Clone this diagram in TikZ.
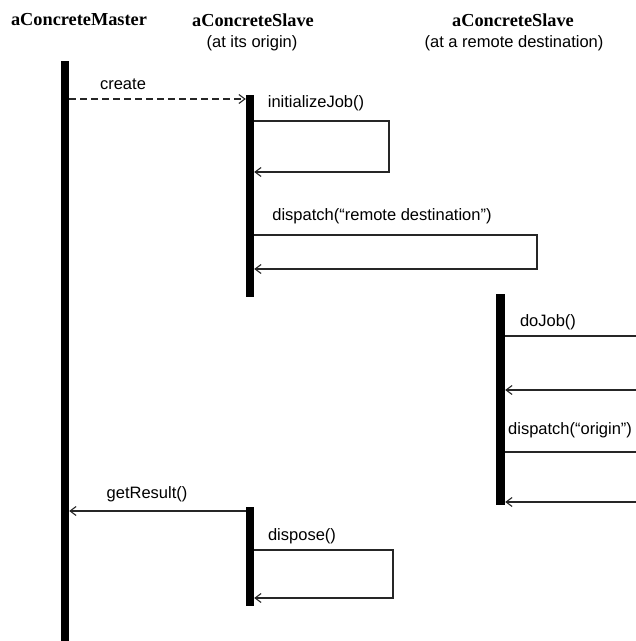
\documentclass[tikz,border=0pt]{standalone}
\usepackage{fontspec}
\setmainfont{Liberation Serif}
\setsansfont{Liberation Sans}
\usetikzlibrary{arrows.meta}

\begin{document}
\begin{tikzpicture}[x=1pt,y=-1pt,
  lifebar/.style={fill=black, draw=none, inner sep=0pt, minimum width=8pt, anchor=north},
  msg/.style={line width=1.1pt, draw=black!85, line join=miter},
  lbl/.style={font=\sffamily\fontsize{16.5}{18}\selectfont, inner sep=0pt},
  head/.style={font=\bfseries\fontsize{18.3}{20}\selectfont, inner sep=0pt},
  sub/.style={font=\sffamily\fontsize{16.5}{18}\selectfont, inner sep=0pt},
  >={Straight Barb[length=6pt,width=9pt]}]
\useasboundingbox (0,0) rectangle (636,641);

% object headings
\node[head] (hMaster) at (79,20) {aConcreteMaster};
\node[head] (hSlaveA) at (253,20) {aConcreteSlave};
\node[sub]  (sSlaveA) at (252,43) {(at its origin)};
\node[head] (hSlaveB) at (513,20) {aConcreteSlave};
\node[sub]  (sSlaveB) at (514,43) {(at a remote destination)};

% activation bars
\node[lifebar, minimum height=580pt] (master) at (65,61) {};
\node[lifebar, minimum height=202pt] (slaveA) at (250,95) {};
\node[lifebar, minimum height=211pt, minimum width=9pt] (remote) at (500.5,294) {};
\node[lifebar, minimum height=99pt] (slaveB) at (250,507) {};

% right edge ends of the remote messages
\coordinate (edgeDo)  at (636,336);
\coordinate (edgeDoR) at (636,390);
\coordinate (edgeOr)  at (636,452);
\coordinate (edgeOrR) at (636,502);

% loop corners
\coordinate (initTop) at (389,121);
\coordinate (initBot) at (389,172);
\coordinate (dispTop) at (537,235);
\coordinate (dispBot) at (537,269);
\coordinate (dispoTop) at (393,550);
\coordinate (dispoBot) at (393,598);

% create
\draw[msg, ->, dash pattern=on 7pt off 4pt] (master.east |- 0,99) -- (slaveA.west |- 0,99);
\node[lbl] (lCreate) at (123,84) {create};

% initializeJob()
\draw[msg, ->] (slaveA.east |- initTop) -- (initTop) -- (initBot) -- (slaveA.east |- initBot);
\node[lbl] (lInit) at (316,103) {initializeJob()};

% dispatch("remote destination")
\draw[msg, ->] (slaveA.east |- dispTop) -- (dispTop) -- (dispBot) -- (slaveA.east |- dispBot);
\node[lbl] (lDisp) at (382,216) {dispatch(“remote destination”)};

% doJob()
\draw[msg] (remote.east |- edgeDo) -- (edgeDo);
\draw[msg, ->] (edgeDoR) -- (remote.east |- edgeDoR);
\node[lbl] (lDo) at (548,322) {doJob()};

% dispatch("origin")
\draw[msg] (remote.east |- edgeOr) -- (edgeOr);
\draw[msg, ->] (edgeOrR) -- (remote.east |- edgeOrR);
\node[lbl, anchor=west] (lOrig) at (508,430) {dispatch(“origin”)};

% getResult()
\draw[msg, ->] (slaveB.west |- 0,511) -- (master.east |- 0,511);
\node[lbl] (lGet) at (147,494) {getResult()};

% dispose()
\draw[msg, ->] (slaveB.east |- dispoTop) -- (dispoTop) -- (dispoBot) -- (slaveB.east |- dispoBot);
\node[lbl] (lDispose) at (302,536) {dispose()};
\end{tikzpicture}
\end{document}
